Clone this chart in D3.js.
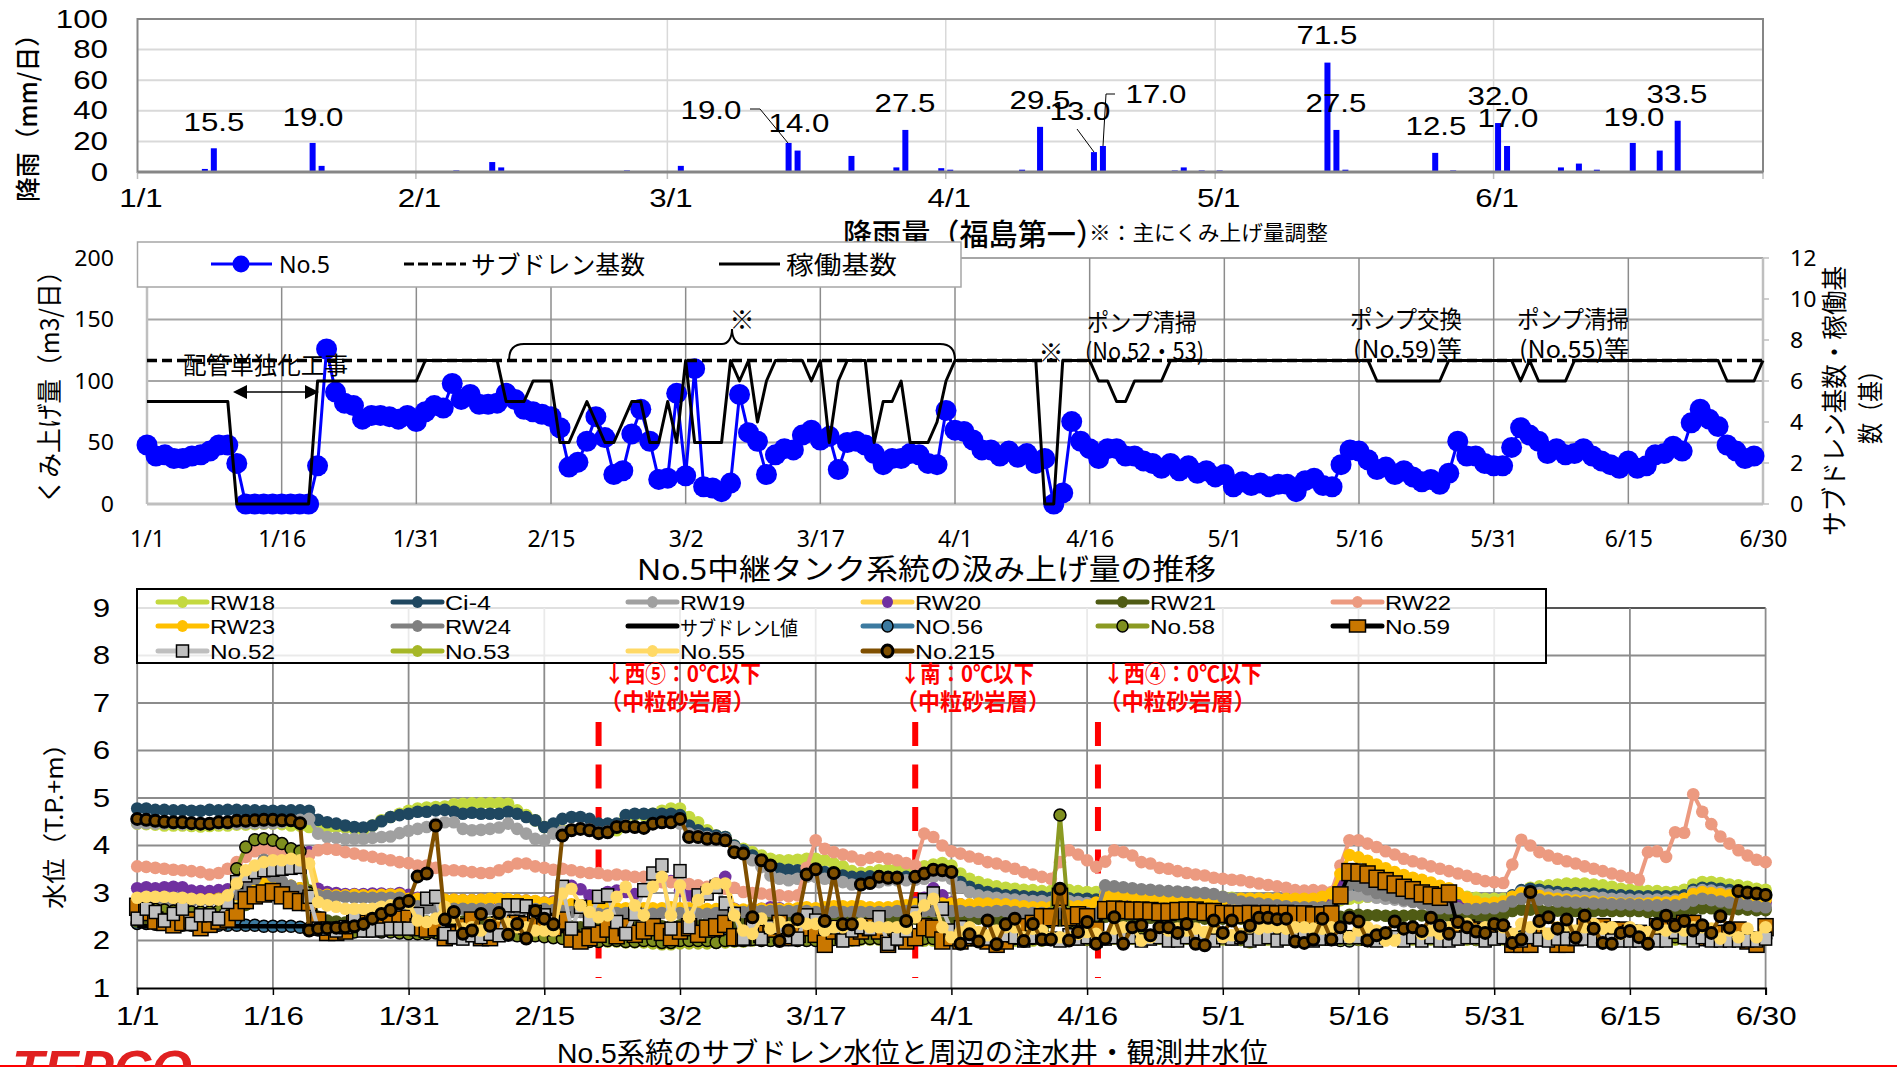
<!DOCTYPE html>
<html><head><meta charset="utf-8">
<script src="https://cdn.jsdelivr.net/npm/d3@7/dist/d3.min.js"></script>
<style>html,body{margin:0;padding:0;background:#fff;overflow:hidden}svg{display:block}</style>
</head><body><svg id="c" width="1897" height="1067"></svg>
<script>
// ---------- chart 1: rainfall ----------
const rainDays=[7,8,19,20,35,39,40,54,60,72,73,79,84,85,89,90,98,100,106,107,115,116,118,120,132,133,134,144,146,151,152,158,160,162,166,169,171];
const rainValues=[2,15.5,19,4,1,6.5,3,1,4,19,14,10.5,3,27.5,2.5,1.5,1.5,29.5,13,17,1,3,1,1,71.5,27.5,1.5,12.5,1,32,17,3,5.5,1.5,19,14,33.5];
const rainTickDays=[0,31,59,90,120,151];
const rainTickLabels=["1/1","2/1","3/1","4/1","5/1","6/1"];
const rainYTicks=[0,20,40,60,80,100];
const rainLabelTexts=["15.5","19.0","19.0","14.0","27.5","29.5","13.0","17.0","71.5","27.5","12.5","32.0","17.0","19.0","33.5"];
// ---------- chart 2: pumping ----------
const no5=[48,39,40,37,37,39,40,43,48,48,33,0,0,0,0,
0,0,0,0,31,126,91,82,80,69,72,72,71,69,72,
67,75,80,78,98,85,89,81,81,82,90,85,77,75,73,
71,62,30,34,51,71,54,24,27,57,77,51,20,21,90,
23,110,14,13,10,17,89,58,51,24,40,45,44,56,60,
52,55,28,50,51,48,41,32,37,37,41,40,33,32,76,
60,59,52,44,44,39,43,38,41,33,37,0,9,67,51,
45,37,45,45,39,39,35,33,29,33,27,31,25,27,22,
24,14,18,15,17,14,16,16,10,19,21,15,14,32,44,
43,36,28,30,24,27,22,18,20,16,25,51,39,39,33,
31,31,46,62,56,51,41,45,40,41,45,39,35,32,29,
35,29,31,40,41,47,43,66,77,69,63,48,43,37,39];
const running=[5,5,5,5,5,5,5,5,5,5,0,0,0,0,0,
0,0,0,0,6,6,6,6,6,6,6,6,6,6,6,
6,7,7,7,7,7,7,7,7,7,5,5,5,6,6,
6,3,3,4,5,4,3,3,4,5,5,3,3,5,3,
7,3,3,3,3,7,6,7,4,6,7,7,7,7,6,
7,3,6,7,7,7,3,5,5,6,3,3,3,4,6,
7,7,7,7,7,7,7,7,7,7,0,0,7,7,7,
7,6,6,5,5,6,6,6,6,7,7,7,7,7,7,
7,7,7,7,7,7,7,7,7,7,7,7,7,7,7,
7,7,6,6,6,6,6,6,6,6,7,7,7,7,7,
7,7,7,6,7,6,6,6,6,7,7,7,7,7,7,
7,7,7,7,7,7,7,7,7,7,7,6,6,6,6,7];
const subdrainCount=[7,7];
const subdrainSpan=[0,180];
const fifteenDayTicks=[0,15,30,45,60,75,90,105,120,135,150,165,180];
const fifteenDayLabels=["1/1","1/16","1/31","2/15","3/2","3/17","4/1","4/16","5/1","5/16","5/31","6/15","6/30"];
const pumpYTicks=[0,50,100,150,200];
const countYTicks=[0,2,4,6,8,10,12];
// ---------- chart 3: water levels ----------
const RW18=[4.46,4.45,4.44,4.42,4.42,4.42,4.41,4.40,4.41,4.42,4.42,4.44,4.44,4.45,4.46,
4.46,4.45,4.42,4.42,4.39,4.38,4.37,4.39,4.38,4.35,4.33,4.42,4.53,4.60,4.67,
4.73,4.78,4.80,4.81,4.82,4.87,4.88,4.89,4.89,4.89,4.89,4.88,4.74,4.64,4.53,
4.39,4.32,4.32,4.33,4.35,4.32,4.28,4.28,4.32,4.60,4.64,4.64,4.67,4.73,4.78,
4.78,4.60,4.49,4.32,4.21,4.18,4.00,3.93,3.86,3.79,3.72,3.69,3.69,3.70,3.72,
3.72,3.69,3.62,3.56,3.46,3.42,3.44,3.48,3.49,3.51,3.51,3.53,3.56,3.60,3.63,
3.58,3.41,3.30,3.23,3.18,3.14,3.11,3.09,3.07,3.06,3.04,3.04,3.04,3.06,3.04,
3.02,3.02,3.00,3.00,3.00,2.99,2.99,2.97,2.97,2.95,2.95,2.95,2.94,2.93,2.92,
2.92,2.90,2.88,2.88,2.88,2.86,2.86,2.86,2.85,2.85,2.85,2.83,2.85,2.85,2.88,
2.90,2.92,2.92,2.92,2.92,2.92,2.92,2.92,2.92,2.93,2.95,2.95,2.92,2.90,2.88,
2.88,2.88,2.92,3.04,3.11,3.14,3.16,3.18,3.20,3.20,3.20,3.18,3.16,3.13,3.09,
3.07,3.06,3.04,3.04,3.02,3.02,3.07,3.18,3.23,3.23,3.21,3.18,3.16,3.13,3.09,3.07];
const Ci4=[4.78,4.78,4.75,4.75,4.74,4.74,4.73,4.73,4.75,4.74,4.75,4.75,4.74,4.74,4.73,
4.73,4.73,4.74,4.74,4.73,4.54,4.49,4.46,4.42,4.39,4.38,4.42,4.51,4.60,4.64,
4.67,4.71,4.71,4.74,4.75,4.71,4.67,4.69,4.67,4.67,4.67,4.71,4.67,4.60,4.53,
4.39,4.46,4.56,4.60,4.60,4.56,4.46,4.46,4.46,4.64,4.67,4.67,4.67,4.67,4.67,
4.64,4.42,4.32,4.25,4.21,4.18,4.00,3.90,3.79,3.65,3.55,3.51,3.49,3.48,3.48,
3.46,3.44,3.41,3.37,3.34,3.34,3.35,3.35,3.34,3.34,3.34,3.35,3.37,3.39,3.41,
3.37,3.23,3.13,3.06,3.02,2.99,2.95,2.95,2.93,2.92,2.92,2.90,2.90,2.89,2.88,
2.88,2.86,2.86,2.86,2.85,2.85,2.85,2.83,2.83,2.83,2.83,2.82,2.82,2.81,2.81,
2.81,2.81,2.81,2.81,2.81,2.81,2.81,2.81,2.81,2.81,2.81,2.81,2.81,2.92,2.99,
2.99,2.95,2.92,2.90,2.88,2.86,2.85,2.81,2.79,2.78,2.76,2.74,2.72,2.71,2.71,
2.72,2.78,2.95,3.06,3.09,3.07,3.04,3.02,3.00,3.00,2.99,2.99,2.97,2.95,2.95,
2.94,2.93,2.93,2.93,2.93,2.93,2.95,3.07,3.11,3.11,3.09,3.06,3.02,3.00,2.99,2.97];
const RW19=[4.47,4.47,4.46,4.46,4.46,4.45,4.45,4.45,4.46,4.46,4.46,4.46,4.47,4.47,4.47,
4.47,4.49,4.52,4.54,4.56,4.25,4.18,4.16,4.14,4.14,4.14,4.16,4.18,4.19,4.26,
4.31,4.35,4.39,4.46,4.49,4.49,4.35,4.32,4.33,4.35,4.38,4.46,4.35,4.25,4.14,
4.11,4.25,4.30,4.34,4.36,4.34,4.28,4.30,4.40,4.42,4.40,4.38,4.46,4.48,4.48,
4.46,4.25,4.21,4.18,4.16,4.14,3.97,3.83,3.69,3.55,3.37,3.30,3.27,3.30,3.34,
3.34,3.30,3.27,3.23,3.18,3.18,3.20,3.23,3.27,3.27,3.27,3.28,3.30,3.34,3.37,
3.30,3.13,3.02,2.95,2.92,2.90,2.88,2.86,2.85,2.83,2.83,2.81,2.81,2.83,2.81,
2.79,2.78,3.00,2.99,2.97,2.95,2.95,2.93,2.92,2.92,2.90,2.90,2.88,2.88,2.86,
2.85,2.83,2.81,2.79,2.78,2.76,2.74,2.72,2.72,2.71,2.71,2.72,2.74,2.88,2.95,
2.95,2.93,2.90,2.88,2.86,2.83,2.81,2.79,2.78,2.76,2.74,2.72,2.71,2.69,2.67,
2.69,2.76,2.92,3.02,3.02,3.00,2.97,2.95,2.93,2.93,2.92,2.92,2.90,2.88,2.88,
2.86,2.86,2.86,2.86,2.86,2.86,2.88,3.02,3.06,3.05,3.02,2.99,2.95,2.92,2.90,2.88];
const RW20=[3.10,3.12,3.10,3.12,3.13,3.12,3.05,3.04,3.04,3.06,3.08,3.10,3.20,3.30,3.40,
3.50,3.55,3.65,3.80,3.86,3.09,3.02,3.00,2.98,2.98,2.98,2.99,2.99,2.98,3.00,
2.96,2.90,2.88,2.88,2.86,2.86,2.85,2.85,2.86,2.86,2.85,2.85,2.85,2.84,2.82,
2.80,2.82,3.10,3.15,3.08,2.95,2.78,3.02,3.05,3.02,2.98,3.08,3.20,3.30,3.25,
3.05,2.95,2.90,3.05,3.20,3.34,2.67,2.62,2.62,2.67,2.70,2.68,2.65,2.66,2.66,
2.62,2.60,2.62,2.62,2.62,2.64,2.64,2.66,2.66,2.68,2.70,2.80,2.90,3.10,2.95,
2.80,2.76,2.74,2.72,2.72,2.70,2.70,2.68,2.68,2.66,2.66,2.66,2.66,2.68,2.68,
2.72,2.78,2.90,2.90,2.90,2.88,2.88,2.86,2.86,2.86,2.84,2.84,2.84,2.84,2.82,
2.82,2.82,2.84,2.84,2.84,2.84,2.84,2.84,2.84,2.84,2.84,2.86,2.92,3.20,3.40,
3.38,3.30,3.22,3.15,3.08,3.00,2.95,2.90,2.85,2.80,2.75,2.72,2.70,2.68,2.68,
2.70,2.72,2.85,2.95,2.94,2.90,2.86,2.84,2.82,2.80,2.80,2.78,2.76,2.76,2.74,
2.74,2.74,2.74,2.76,2.76,2.78,2.82,2.92,2.96,2.95,2.92,2.90,2.88,2.84,2.82,2.80];
const RW21=[2.40,2.40,2.38,2.38,2.36,2.38,2.38,2.40,2.40,2.42,2.46,2.55,2.75,2.90,3.00,
3.05,3.09,3.08,3.09,3.05,2.50,2.42,2.40,2.38,2.38,2.38,2.40,2.40,2.42,2.42,
2.44,2.40,2.40,2.40,2.38,2.38,2.40,2.40,2.38,2.38,2.40,2.40,2.38,2.38,2.36,
2.34,2.32,2.30,2.30,2.28,2.28,2.30,2.30,2.28,2.30,2.28,2.28,2.28,2.30,2.30,
2.32,2.34,2.34,2.36,2.38,2.38,2.36,2.38,2.38,2.40,2.42,2.42,2.42,2.44,2.44,
2.46,2.46,2.46,2.46,2.44,2.44,2.44,2.46,2.46,2.44,2.46,2.46,2.44,2.44,2.42,
2.44,2.46,2.46,2.46,2.44,2.44,2.44,2.44,2.42,2.42,2.42,2.42,2.42,2.44,2.44,
2.42,2.42,2.50,2.50,2.50,2.50,2.50,2.48,2.48,2.48,2.48,2.46,2.46,2.46,2.46,
2.46,2.46,2.46,2.46,2.46,2.44,2.44,2.44,2.44,2.44,2.44,2.44,2.46,2.50,2.54,
2.54,2.53,2.53,2.52,2.52,2.52,2.53,2.53,2.53,2.53,2.52,2.50,2.50,2.50,2.52,
2.52,2.54,2.62,2.65,2.65,2.64,2.63,2.63,2.62,2.62,2.62,2.62,2.62,2.62,2.62,
2.62,2.62,2.60,2.60,2.60,2.60,2.62,2.66,2.68,2.68,2.66,2.66,2.66,2.65,2.64,2.64];
const RW22=[3.56,3.55,3.53,3.51,3.49,3.48,3.46,3.44,3.39,3.42,3.51,3.65,3.76,3.88,3.93,
3.88,3.81,3.77,3.72,3.79,3.90,3.93,3.91,3.86,3.83,3.79,3.76,3.72,3.69,3.65,
3.63,3.58,3.58,3.53,3.48,3.48,3.46,3.44,3.42,3.42,3.48,3.55,3.62,3.62,3.56,
3.53,3.49,3.51,3.48,3.44,3.42,3.42,3.37,3.39,3.37,3.34,3.34,3.27,3.23,3.23,
3.20,3.19,3.16,3.13,3.11,3.09,3.11,3.02,3.00,2.99,2.97,2.95,2.93,2.95,3.53,
4.11,3.93,3.86,3.81,3.77,3.69,3.74,3.76,3.72,3.69,3.63,3.58,4.25,4.18,4.00,
3.88,3.83,3.77,3.72,3.65,3.62,3.56,3.51,3.44,3.39,3.34,3.30,3.65,3.90,3.81,
3.69,3.55,3.66,3.90,3.86,3.79,3.65,3.62,3.53,3.51,3.46,3.42,3.39,3.37,3.32,
3.30,3.28,3.27,3.23,3.20,3.17,3.14,3.11,3.06,3.05,3.06,3.05,3.02,3.58,4.11,
4.11,4.04,3.97,3.88,3.81,3.72,3.67,3.62,3.56,3.51,3.46,3.41,3.36,3.30,3.25,
3.23,3.21,3.60,4.12,4.00,3.86,3.79,3.72,3.67,3.62,3.56,3.51,3.46,3.41,3.36,
3.32,3.28,3.86,3.88,3.76,4.28,4.27,5.08,4.71,4.45,4.19,4.04,3.90,3.79,3.70,3.65];
const RW23=[2.88,2.88,2.87,2.87,2.86,2.86,2.86,2.86,2.87,2.88,2.90,2.95,3.05,3.15,3.20,
3.20,3.20,3.15,3.10,3.00,2.96,2.96,2.95,2.95,2.96,2.95,2.95,2.96,2.97,2.97,
2.88,2.88,2.87,2.87,2.86,2.86,2.85,2.85,2.86,2.88,2.88,2.87,2.85,2.84,2.83,
2.80,2.80,2.78,2.76,2.74,2.72,2.70,2.68,2.68,2.68,2.68,2.68,2.68,2.68,2.70,
2.68,2.68,2.68,2.66,2.66,2.65,2.66,2.65,2.67,2.67,2.65,2.66,2.67,2.68,2.70,
2.68,2.70,2.72,2.72,2.72,2.72,2.70,2.70,2.70,2.72,2.74,2.76,2.78,2.78,2.78,
2.78,2.76,2.76,2.78,2.78,2.76,2.76,2.74,2.72,2.70,2.70,2.70,2.70,2.72,2.72,
2.74,2.80,2.95,2.93,2.95,2.93,2.92,2.92,2.90,2.90,2.90,2.88,2.88,2.88,2.88,
2.86,2.86,2.88,2.88,2.88,2.88,2.88,2.88,2.88,2.88,2.88,2.92,2.99,3.40,3.80,
3.75,3.68,3.60,3.52,3.44,3.38,3.32,3.28,3.22,3.15,3.10,3.00,2.90,2.82,2.78,
2.80,2.82,2.92,3.00,2.98,2.94,2.90,2.88,2.86,2.84,2.83,2.82,2.80,2.79,2.78,
2.78,2.78,2.78,2.80,2.80,2.82,2.88,2.98,3.02,3.00,2.98,2.95,2.93,2.90,2.88,2.86];
const RW24=[2.85,2.85,2.84,2.84,2.84,2.83,2.83,2.84,2.84,2.86,2.90,2.98,3.10,3.30,3.70,
3.35,3.25,3.15,3.05,2.98,2.95,2.94,2.92,2.92,2.90,2.90,2.90,2.90,2.90,2.90,
2.78,2.72,2.68,2.67,2.68,2.67,2.67,2.66,2.67,2.66,2.66,2.67,2.66,2.66,2.66,
2.66,2.64,2.62,2.60,2.60,2.58,2.56,2.56,2.58,2.58,2.56,2.56,2.56,2.58,2.58,
2.58,2.58,2.56,2.56,2.58,2.60,2.60,2.60,2.64,2.62,2.62,2.62,2.62,2.62,2.62,
2.60,2.60,2.60,2.60,2.60,2.60,2.60,2.60,2.60,2.62,2.62,2.62,2.62,2.62,2.62,
2.62,2.62,2.60,2.60,2.60,2.62,2.62,2.60,2.58,2.58,2.58,2.58,2.58,2.60,2.60,
2.58,2.56,3.16,3.14,3.12,3.10,3.08,3.07,3.05,3.04,3.03,3.02,3.01,3.00,2.98,
2.92,2.88,2.82,2.80,2.78,2.76,2.74,2.72,2.70,2.70,2.70,2.70,2.72,3.02,3.18,
3.15,3.08,3.00,2.95,2.90,2.86,2.82,2.78,2.72,2.68,2.68,2.68,2.66,2.66,2.68,
2.68,2.72,2.82,2.88,2.90,2.86,2.84,2.82,2.82,2.80,2.80,2.78,2.78,2.76,2.76,
2.76,2.75,2.74,2.74,2.74,2.74,2.76,2.84,2.88,2.85,2.82,2.80,2.78,2.75,2.72,2.70];
const subdrainL=[2.30,2.30,2.30,2.30,2.30,2.30,2.30,2.30,2.30,2.30,2.30,2.30,2.30,2.30,2.30,
2.30,2.30,2.30,2.30,2.30,2.30,2.30,2.30,2.30,2.30,2.30,2.30,2.30,2.30,2.30,
2.30,2.30,2.30,2.30,2.30,2.30,2.30,2.30,2.30,2.30,2.30,2.30,2.30,2.30,2.30,
2.30,2.30,2.20,2.05,2.00,2.00,2.00,2.00,2.00,2.00,2.00,2.00,2.00,2.00,2.00,
2.00,2.00,2.00,2.00,2.00,2.00,2.00,2.00,2.00,2.00,2.00,2.00,2.00,2.00,2.00,
2.00,2.00,2.00,2.00,2.00,2.00,2.00,2.00,2.00,2.00,2.00,2.00,2.00,2.00,2.00,
2.00,2.00,2.00,2.00,2.00,2.00,2.00,2.00,2.00,2.00,2.00,2.00,2.00,2.00,2.00,
2.00,2.00,2.00,2.00,2.00,2.00,2.00,2.00,2.00,2.00,2.00,2.00,2.00,2.00,2.00,
2.00,2.00,2.00,2.00,2.00,2.00,2.00,2.00,2.00,2.00,2.00,2.00,2.00,2.00,2.00,
2.00,2.00,2.00,2.00,2.00,2.00,2.00,2.00,2.00,2.00,2.00,2.00,2.00,2.00,2.00,
2.00,2.00,2.00,2.00,2.00,2.00,2.00,2.00,2.00,2.00,2.00,2.00,2.00,2.00,2.00,
2.00,2.00,2.00,2.00,2.00,2.00,2.00,2.00,2.00,2.00,2.00,2.00,2.00,2.00,2.00,2.00];
const NO56=[2.36,2.36,2.34,2.34,2.32,2.32,2.32,2.32,2.32,2.32,2.32,2.32,2.32,2.32,2.30,
2.30,2.30,2.30,2.28,2.26,2.26,2.26,2.24,2.24,2.24,2.22,2.22,2.22,2.22,2.22,
2.20,2.20,2.20,2.18,2.18,2.18,2.18,2.18,2.16,2.16,2.16,2.14,2.14,2.14,2.12,
2.10,2.08,2.06,2.04,2.04,2.04,2.04,2.02,2.02,2.02,2.02,2.02,2.02,2.02,2.02,
2.04,2.04,2.04,2.04,2.02,2.04,2.04,2.06,2.04,2.04,2.04,2.04,2.04,2.04,2.06,
2.06,2.08,2.06,2.06,2.06,2.04,2.06,2.06,2.04,2.06,2.06,2.04,2.06,2.04,2.04,
2.04,2.02,2.04,2.02,2.04,2.02,2.04,2.04,2.02,2.04,2.04,2.02,2.04,2.04,2.04,
2.02,2.04,2.04,2.06,2.04,2.06,2.04,2.04,2.08,2.06,2.07,2.07,2.02,2.00,2.04,
2.04,2.06,2.02,2.00,2.06,2.07,2.06,2.06,2.02,2.00,2.02,2.04,2.02,2.00,1.99,
2.02,2.00,2.04,2.06,2.04,2.04,2.06,2.06,2.04,2.06,2.04,2.06,2.04,2.02,2.04,
2.04,2.06,2.02,2.02,2.04,2.06,2.04,2.04,2.06,2.04,2.06,2.04,2.02,2.02,2.04,
2.04,2.04,2.02,2.04,2.06,2.04,2.04,2.06,2.04,2.04,2.06,2.04,2.04,2.04,2.04,2.04];
const No58=[2.70,2.68,2.66,2.64,2.62,2.62,2.60,2.60,2.60,2.62,2.80,3.51,3.97,4.12,4.14,
4.11,4.04,3.93,3.88,3.00,2.22,2.20,2.20,2.18,2.18,2.20,2.20,2.18,2.18,2.16,
2.14,2.14,2.14,2.16,2.14,2.14,2.12,2.12,2.14,2.12,2.12,2.12,2.10,2.10,2.10,
2.08,2.06,2.04,2.00,2.00,1.98,1.98,2.00,2.00,1.98,1.98,2.00,2.00,1.96,1.96,
2.00,2.00,2.00,2.00,1.96,2.00,2.00,2.00,2.02,2.00,2.00,2.00,2.02,2.00,2.00,
2.00,2.04,2.02,2.02,2.02,2.04,2.04,2.04,2.02,2.04,2.04,2.04,2.04,2.04,2.02,
2.02,2.02,2.02,2.04,2.02,2.02,2.02,2.04,2.04,2.04,2.06,2.40,4.64,2.40,2.04,
2.06,2.06,2.06,2.08,2.10,2.10,2.08,2.08,2.10,2.12,2.12,2.10,2.10,2.08,2.06,
2.08,2.06,2.06,2.00,2.06,2.08,2.10,2.08,2.06,2.06,2.08,2.06,2.08,2.06,2.06,
2.06,2.08,2.08,2.06,2.06,2.08,2.08,2.07,2.08,2.11,2.08,2.06,2.08,2.06,2.06,
2.06,2.06,2.06,2.08,2.08,2.06,2.06,2.08,2.06,2.06,2.08,2.06,2.06,2.04,2.06,
2.06,2.06,2.08,2.06,2.06,2.08,2.08,2.06,2.08,2.06,2.06,2.08,2.08,2.06,2.06,2.06];
const No59=[2.71,2.60,2.42,2.39,2.34,2.39,2.42,2.28,2.35,2.42,2.46,2.60,2.85,2.95,2.99,
3.02,2.95,2.85,2.81,2.81,2.42,2.18,2.18,2.21,2.35,2.35,2.39,2.42,2.42,2.44,
2.46,2.28,2.25,2.28,2.07,2.11,2.28,2.42,2.07,2.07,2.32,2.35,2.35,2.32,2.39,
2.39,2.28,2.42,2.04,2.00,2.07,2.14,2.25,2.11,2.28,2.14,2.21,2.28,2.18,2.07,
2.21,2.28,2.14,2.25,2.28,2.35,2.07,2.07,2.28,2.14,2.25,2.35,2.07,2.14,2.28,
2.14,1.93,2.21,2.11,2.07,2.21,2.28,2.21,1.93,2.07,2.00,2.07,2.28,2.25,2.00,
2.07,2.00,2.07,2.07,2.00,1.93,2.00,2.14,2.28,2.35,2.49,2.49,2.92,2.49,2.53,
2.49,2.21,2.64,2.65,2.64,2.63,2.63,2.62,2.60,2.60,2.62,2.63,2.63,2.60,2.60,
2.56,2.55,2.55,2.56,2.55,2.56,2.55,2.56,2.55,2.55,2.53,2.53,2.55,2.95,3.44,
3.43,3.39,3.30,3.25,3.18,3.11,3.06,2.99,2.95,2.92,2.99,2.28,2.25,2.21,2.18,
2.14,2.11,1.93,1.93,1.93,2.07,2.07,1.93,1.93,2.07,2.28,2.28,2.28,2.21,2.21,
2.14,2.14,2.07,2.28,2.28,2.28,2.35,2.35,2.07,2.07,2.14,2.14,2.21,2.00,1.93,2.28];
const No52=[2.46,2.67,2.60,2.42,2.56,2.67,2.35,2.53,2.53,2.46,2.81,3.23,3.37,3.44,3.48,
3.49,3.51,3.53,3.55,2.92,2.25,2.25,2.21,2.28,2.53,2.21,2.21,2.23,2.25,2.25,
2.25,2.56,2.88,2.92,2.14,2.07,2.04,2.11,2.07,2.14,2.11,2.74,2.74,2.72,2.60,
2.53,2.39,3.13,2.25,2.71,2.42,2.92,2.95,2.39,2.14,2.56,3.06,3.41,3.58,2.25,
3.46,2.28,2.95,2.99,3.13,2.78,2.56,2.04,2.28,2.04,2.28,2.28,2.07,2.04,2.53,
2.42,2.28,2.28,2.00,2.21,2.28,2.25,2.49,1.93,2.04,2.21,2.56,2.85,2.99,2.67,
2.21,2.28,2.07,2.07,2.04,2.07,2.11,2.07,2.00,2.07,2.07,2.04,2.00,2.11,2.04,
2.07,2.00,2.04,2.07,2.07,2.07,2.00,2.04,2.07,2.00,2.00,2.07,2.07,2.04,2.00,
2.07,2.04,2.07,2.00,2.04,2.07,2.00,2.04,2.07,2.07,2.00,2.04,2.04,2.07,2.07,
2.07,2.04,2.00,2.07,2.07,2.00,2.07,2.00,2.07,2.00,2.00,2.04,2.07,2.07,2.00,
2.04,2.07,2.00,2.00,2.07,2.02,2.00,2.04,2.04,2.04,2.04,2.00,2.02,2.00,2.00,
2.00,2.00,2.07,2.00,2.00,2.18,2.07,2.00,2.07,2.00,2.00,2.00,2.00,2.00,2.00,2.04];
const No53=[2.60,2.58,2.56,2.54,2.52,2.52,2.52,2.54,2.54,2.56,2.60,2.68,2.90,3.10,3.20,
3.22,3.20,3.15,3.10,2.85,2.34,2.32,2.30,2.30,2.30,2.30,2.30,2.30,2.30,2.28,
2.26,2.24,2.24,2.24,2.22,2.22,2.20,2.20,2.20,2.20,2.18,2.18,2.18,2.16,2.16,
2.14,2.10,2.06,2.02,2.00,1.98,1.98,1.98,1.98,1.96,1.96,1.96,1.94,1.92,1.92,
1.94,1.94,1.94,1.94,1.95,1.96,1.98,1.98,2.00,2.00,2.00,2.00,2.02,2.00,2.00,
2.02,2.04,2.02,2.02,2.00,2.02,2.02,2.02,2.00,2.02,2.02,2.02,2.00,2.00,2.00,
2.00,1.98,2.00,2.00,2.00,1.98,2.00,2.00,2.00,2.00,2.00,2.02,2.02,2.02,2.02,
2.02,2.02,2.04,2.04,2.04,2.04,2.02,2.04,2.04,2.02,2.04,2.04,2.04,2.02,2.02,
2.02,2.02,2.02,1.96,2.02,2.02,2.04,2.02,2.02,2.00,2.02,2.02,2.02,2.02,2.02,
2.02,2.02,2.02,2.04,2.02,2.02,2.02,2.03,2.02,2.05,2.02,2.02,2.02,2.02,2.02,
2.02,2.02,2.02,2.02,2.02,2.02,2.02,2.02,2.02,2.02,2.02,2.02,2.02,2.00,2.02,
2.02,2.02,2.02,2.02,2.02,2.02,2.02,2.02,2.02,2.02,2.02,2.02,2.02,2.02,2.02,2.02];
const No55=[2.90,2.92,2.92,2.92,2.90,2.90,2.88,2.86,2.86,2.86,2.95,3.20,3.48,3.58,3.65,
3.69,3.69,3.72,3.69,3.62,2.81,2.74,2.71,2.67,2.67,2.67,2.67,2.71,2.74,2.78,
2.78,2.42,2.39,2.46,2.71,2.49,2.25,2.28,2.21,2.35,2.53,2.35,2.28,2.28,2.21,
2.21,2.21,2.99,3.09,2.74,2.60,2.49,2.53,2.92,3.13,2.74,2.53,3.13,3.34,2.53,
3.16,2.49,2.85,3.09,3.20,3.20,2.53,2.21,2.14,2.46,2.25,2.39,2.28,2.39,2.35,
2.35,2.21,2.28,2.28,2.35,2.35,2.28,2.28,2.28,2.28,2.25,2.49,2.74,2.88,2.28,
2.07,2.18,2.28,2.18,2.11,2.21,2.28,2.28,2.07,2.25,2.21,2.07,2.07,2.07,2.14,
2.18,2.14,2.07,2.25,2.28,2.28,2.00,2.07,2.28,2.21,2.25,2.21,2.25,2.18,2.28,
2.07,2.11,2.14,2.28,2.25,2.28,2.28,2.25,2.28,2.28,2.25,2.25,2.28,2.28,2.07,
2.21,2.28,2.21,2.00,2.00,2.25,2.28,2.14,2.21,2.14,2.28,2.35,2.35,2.21,2.28,
2.35,2.28,2.14,2.35,2.28,2.35,2.14,2.28,2.32,2.21,2.28,2.35,2.25,2.28,2.14,
2.28,2.21,2.18,2.28,2.21,2.28,2.21,2.28,2.28,2.25,2.04,2.21,2.07,2.25,2.07,2.28];
const No215=[4.56,4.54,4.52,4.50,4.49,4.49,4.47,4.46,4.46,4.49,4.49,4.52,4.52,4.53,4.54,
4.54,4.53,4.53,4.47,2.21,2.25,2.26,2.27,2.28,2.30,2.35,2.46,2.56,2.64,2.78,
2.83,3.35,3.41,4.42,2.44,2.60,2.14,2.21,2.56,2.31,2.58,2.12,2.35,2.04,2.62,
2.46,2.34,4.21,4.32,4.35,4.32,4.26,4.28,4.39,4.40,4.39,4.37,4.46,4.49,4.49,
4.56,4.18,4.18,4.14,4.14,4.11,3.86,3.83,2.49,3.69,3.58,1.99,2.21,2.45,3.39,
3.50,2.41,3.42,2.34,2.34,3.18,3.21,3.34,3.32,3.32,2.41,3.34,3.41,3.49,3.48,
3.44,1.93,2.13,1.98,2.42,1.92,2.34,2.46,1.99,2.35,2.02,2.02,3.09,2.00,2.18,
2.39,1.93,2.04,2.49,1.93,2.28,2.32,2.11,2.28,2.28,2.16,2.35,1.93,1.90,2.42,
2.16,2.42,2.07,2.31,2.48,2.48,2.45,2.46,1.98,1.95,2.02,2.46,2.02,2.28,2.48,
2.40,2.00,2.11,2.16,2.40,2.25,2.28,2.20,2.48,2.31,2.14,2.39,2.28,2.19,2.16,
2.35,2.32,1.95,2.02,3.02,2.41,2.49,2.25,2.44,2.06,2.52,2.25,1.95,1.93,2.16,
2.20,2.07,1.93,2.35,2.52,2.31,2.41,2.21,2.32,2.16,2.51,2.27,3.04,3.01,2.99,2.96];
const levelYTicks=[1,2,3,4,5,6,7,8,9];
const frozenDays=[51,86,106.2];

const F1='"Liberation Sans","Noto Sans CJK JP",sans-serif';
const F2='"Noto Sans","Noto Sans CJK JP",sans-serif';
const CJK='"Noto Sans CJK JP","Noto Sans",sans-serif';
const svg=d3.select("#c");
const idx=a=>a.map((v,i)=>[i,v]);

function stretch(sel,k){sel.each(function(){const w=this.getComputedTextLength();
  this.setAttribute("textLength",w*k);this.setAttribute("lengthAdjust","spacingAndGlyphs");});return sel;}
function txt(x,y,s,o={}){
  const t=svg.append("text").attr("x",x).attr("y",y).attr("dominant-baseline","central")
    .attr("font-family",o.font||CJK).attr("font-size",o.size||22).attr("font-weight",o.weight||400)
    .attr("fill",o.fill||"#000").attr("text-anchor",o.anchor||"start").text(s);
  if(o.rotate)t.attr("transform",`rotate(${o.rotate} ${x} ${y})`);
  if(o.width){t.attr("textLength",o.width).attr("lengthAdjust","spacingAndGlyphs");}
  else if(o.stretch)stretch(t,o.stretch);
  return t;
}
function styleAxis(g,font,size,k){
  g.select(".domain").remove();g.selectAll(".tick line").remove();
  const t=g.selectAll("text").attr("font-family",font).attr("font-size",size).attr("fill","#000");
  if(k)stretch(t,k);
}

// ===== Chart 1 =====
const x1=d3.scaleLinear().domain([0,181]).range([137.5,1763]);
const band1=d3.scaleBand().domain(d3.range(181)).range([137.5,1763]);
const y1=d3.scaleLinear().domain([0,100]).range([172,19]);
const g1=svg.append("g");
g1.selectAll(".h").data(rainYTicks).join("line").attr("x1",137.5).attr("x2",1763).attr("y1",d=>y1(d)).attr("y2",d=>y1(d)).attr("stroke","#d9d9d9").attr("stroke-width",2);
g1.selectAll(".v").data(rainTickDays.slice(1)).join("line").attr("x1",d=>x1(d)).attr("x2",d=>x1(d)).attr("y1",19).attr("y2",172).attr("stroke","#d9d9d9").attr("stroke-width",1.5);
g1.append("rect").attr("x",137.5).attr("y",19).attr("width",1625.5).attr("height",153).attr("fill","none").attr("stroke","#868686").attr("stroke-width",2);
g1.selectAll(".t").data([...rainTickDays,181]).join("line").attr("x1",d=>x1(d)).attr("x2",d=>x1(d)).attr("y1",172).attr("y2",179).attr("stroke","#bfbfbf").attr("stroke-width",1.5);
g1.selectAll(".bar").data(rainDays.map((d,i)=>[d,rainValues[i]])).join("rect")
  .attr("x",d=>band1(d[0])+band1.bandwidth()/2-3).attr("width",6)
  .attr("y",d=>y1(d[1])).attr("height",d=>y1(0)-y1(d[1])).attr("fill","#0000ff");
g1.append("line").attr("x1",137.5).attr("x2",1763).attr("y1",172).attr("y2",172).attr("stroke","#868686").attr("stroke-width",3);
const ax1=svg.append("g").attr("transform","translate(108,0)").call(d3.axisLeft(y1).tickValues(rainYTicks).tickSize(0).tickPadding(0));
styleAxis(ax1,F1,25,1.25);
const bx1=svg.append("g").attr("transform","translate(3,189)").call(d3.axisBottom(x1).tickValues(rainTickDays).tickFormat((d,i)=>rainTickLabels[i]).tickSize(0).tickPadding(0));
styleAxis(bx1,F1,25,1.25);
const rainLabelPos=[[214,122],[313,117],[711,110],[799,123],[905,103],[1040,100],[1080,111],[1156,94],[1327,35],[1336,103],[1436,126],[1498,96],[1508,118],[1634,117],[1677,94]];
rainLabelTexts.forEach((s,i)=>txt(rainLabelPos[i][0],rainLabelPos[i][1],s,{font:F1,size:25,anchor:"middle",stretch:1.25}));
const lead=(pts)=>svg.append("path").attr("d",d3.line()(pts)).attr("fill","none").attr("stroke","#000").attr("stroke-width",1);
lead([[750,109],[760,109],[788,143]]);lead([[1077,129],[1094,152]]);lead([[1115,94],[1106,94],[1103,146]]);
txt(26,112,"降雨（mm/日）",{size:25,anchor:"middle",rotate:-90,width:180,weight:500});
txt(843,232,"降雨量（福島第一）",{size:30,width:262,weight:500});
txt(1089,231,"※：主にくみ上げ量調整",{size:21,width:239});

// ===== Chart 2 =====
const x2=d3.scaleLinear().domain([0,180]).range([147,1763]);
const y2=d3.scaleLinear().domain([0,200]).range([504,258]);
const y2r=d3.scaleLinear().domain([0,12]).range([504,258]);
const g2=svg.append("g");
g2.selectAll(".h").data(pumpYTicks).join("line").attr("x1",147).attr("x2",1763).attr("y1",d=>y2(d)).attr("y2",d=>y2(d)).attr("stroke",d=>d===0?"#bfbfbf":"#a6a6a6").attr("stroke-width",d=>d===0?3:2);
g2.selectAll(".v").data(fifteenDayTicks).join("line").attr("x1",d=>x2(d)).attr("x2",d=>x2(d)).attr("y1",258).attr("y2",504).attr("stroke",d=>(d===0||d===180)?"#bfbfbf":"#8c8c8c").attr("stroke-width",d=>(d===0||d===180)?2.5:1.5);
g2.selectAll(".rt").data(countYTicks).join("line").attr("x1",1763).attr("x2",1769).attr("y1",d=>y2r(d)).attr("y2",d=>y2r(d)).attr("stroke","#bfbfbf").attr("stroke-width",1.5);
const line2=d3.line().x(d=>x2(d[0])).y(d=>y2(d[1]));
const line2r=d3.line().x(d=>x2(d[0])).y(d=>y2r(d[1]));
g2.append("path").attr("d",line2(idx(no5))).attr("fill","none").attr("stroke","#0000ff").attr("stroke-width",3);
g2.selectAll(".m").data(idx(no5)).join("circle").attr("cx",d=>x2(d[0])).attr("cy",d=>y2(d[1])).attr("r",10.5).attr("fill","#0000ff");
g2.append("path").attr("d",line2r(subdrainSpan.map((d,i)=>[d,subdrainCount[i]]))).attr("fill","none").attr("stroke","#000").attr("stroke-width",3.5).attr("stroke-dasharray","10 5");
g2.append("path").attr("d",line2r(idx(running))).attr("fill","none").attr("stroke","#000").attr("stroke-width",3).attr("stroke-linejoin","round");
const ax2=svg.append("g").attr("transform","translate(114,0)").call(d3.axisLeft(y2).tickValues(pumpYTicks).tickSize(0).tickPadding(0));
styleAxis(ax2,F2,22,1.05);
const bx2=svg.append("g").attr("transform","translate(0,531)").call(d3.axisBottom(x2).tickValues(fifteenDayTicks).tickFormat((d,i)=>fifteenDayLabels[i]).tickSize(0).tickPadding(0));
styleAxis(bx2,F2,23,1.0);
const rx2=svg.append("g").attr("transform","translate(1790,0)").call(d3.axisRight(y2r).tickValues(countYTicks).tickSize(0).tickPadding(0));
styleAxis(rx2,F2,22,1.05);
txt(47,381,"くみ上げ量（m3/日）",{size:26,anchor:"middle",rotate:-90,width:245});
txt(1832,401,"サブドレン基数・稼働基",{size:26,anchor:"middle",rotate:-90,width:270});
txt(1868,402,"数（基）",{size:26,anchor:"middle",rotate:-90,width:84});
txt(637,568,"No.5中継タンク系統の汲み上げ量の推移",{size:29,width:579,font:F2});
// legend 2
svg.append("rect").attr("x",137.5).attr("y",242).attr("width",823.5).attr("height",45).attr("fill","#fff").attr("stroke","#a6a6a6").attr("stroke-width",1.5);
svg.append("line").attr("x1",211).attr("x2",272).attr("y1",264).attr("y2",264).attr("stroke","#0000ff").attr("stroke-width",3);
svg.append("circle").attr("cx",241).attr("cy",264).attr("r",8.5).attr("fill","#0000ff");
txt(279,264,"No.5",{font:F2,size:23,width:51});
svg.append("line").attr("x1",404).attr("x2",466).attr("y1",264).attr("y2",264).attr("stroke","#000").attr("stroke-width",3).attr("stroke-dasharray","10 4");
txt(471,263,"サブドレン基数",{size:25,width:174});
svg.append("line").attr("x1",719).attr("x2",780).attr("y1",264).attr("y2",264).attr("stroke","#000").attr("stroke-width",3);
txt(786,263,"稼働基数",{size:25,width:111});
// annotations 2
txt(183,363,"配管単独化工事",{size:24,width:165});
svg.append("line").attr("x1",240).attr("x2",312).attr("y1",392).attr("y2",392).attr("stroke","#000").attr("stroke-width",1.5);
svg.append("path").attr("d","M233 392L247 385V399Z").attr("fill","#000");
svg.append("path").attr("d","M319 392L305 385V399Z").attr("fill","#000");
svg.append("path").attr("d","M509 360C509 350 514 344 524 344H722C728 344 732 338 732 329C732 338 736 344 742 344H940C950 344 955 350 955 360").attr("fill","none").attr("stroke","#000").attr("stroke-width",2);
txt(742,318,"※",{size:25,anchor:"middle"});
txt(1051,351,"※",{size:25,anchor:"middle"});
txt(1087,320,"ポンプ清掃",{size:24,width:110});
txt(1085,349,"(No.52・53)",{size:24,width:119});
txt(1350,317,"ポンプ交換",{size:24,width:112});
txt(1353,347,"(No.59)等",{size:24,width:109});
txt(1517,317,"ポンプ清掃",{size:24,width:112});
txt(1519,347,"(No.55)等",{size:24,width:110});

// ===== Chart 3 =====
const x3=d3.scaleLinear().domain([0,180]).range([137.2,1765.6]);
const y3=d3.scaleLinear().domain([1,9]).range([988,608]);
const g3=svg.append("g");
g3.selectAll(".h").data(levelYTicks.slice(1)).join("line").attr("x1",137).attr("x2",1765.6).attr("y1",d=>y3(d)).attr("y2",d=>y3(d)).attr("stroke",d=>d===9?"#555":"#8c8c8c").attr("stroke-width",2);
g3.selectAll(".v").data(fifteenDayTicks).join("line").attr("x1",d=>x3(d)).attr("x2",d=>x3(d)).attr("y1",608).attr("y2",988).attr("stroke","#8c8c8c").attr("stroke-width",1.8);
const xAxis3=svg.append("g").attr("transform","translate(0,988)").call(d3.axisBottom(x3).tickValues(fifteenDayTicks).tickFormat((d,i)=>fifteenDayLabels[i]).tickSize(7).tickPadding(12));
xAxis3.select(".domain").attr("stroke","#000").attr("stroke-width",2);
xAxis3.selectAll(".tick line").attr("stroke","#000").attr("stroke-width",1.5);
{const t=xAxis3.selectAll("text").attr("font-family",F1).attr("font-size",25).attr("fill","#000");stretch(t,1.25);}
const ax3=svg.append("g").attr("transform","translate(110,0)").call(d3.axisLeft(y3).tickValues(levelYTicks).tickSize(0).tickPadding(0));
styleAxis(ax3,F1,25,1.25);
// red frost lines
svg.selectAll(".fr").data(frozenDays).join("line").attr("x1",d=>x3(d)).attr("x2",d=>x3(d)).attr("y1",722).attr("y2",978).attr("stroke","#ff0000").attr("stroke-width",6).attr("stroke-dasharray","24 18.5");

// draw order: hidden low series first, main wells, then the subdrains on top
const series=[
 {name:"NO.56",vals:NO56,line:"#3C7AA0",fill:"#3C7AA0",outline:true},
 {name:"No.53",vals:No53,line:"#A6B727",fill:"#A6B727"},
 {name:"RW18",vals:RW18,line:"#C4D93F",fill:"#C4D93F"},
 {name:"Ci-4",vals:Ci4,line:"#1F4760",fill:"#1F4760"},
 {name:"RW19",vals:RW19,line:"#A0A0A0",fill:"#A0A0A0"},
 {name:"RW20",vals:RW20,line:"#FFD24A",fill:"#7030A0"},
 {name:"RW21",vals:RW21,line:"#4F5B14",fill:"#4F5B14"},
 {name:"RW22",vals:RW22,line:"#EC9A80",fill:"#EC9A80"},
 {name:"RW23",vals:RW23,line:"#FFC000",fill:"#FFC000"},
 {name:"RW24",vals:RW24,line:"#808080",fill:"#808080"},
 {name:"サブドレンL値",vals:subdrainL,line:"#000",none:true},
 {name:"No.58",vals:No58,line:"#8B9A22",fill:"#7F8F1F",outline:true},
 {name:"No.59",vals:No59,line:"#000",fill:"#C97700",square:[15,17]},
 {name:"No.52",vals:No52,line:"#BFBFBF",fill:"#BFBFBF",square:[12,13]},
 {name:"No.55",vals:No55,line:"#FFD966",fill:"#FFD966"},
 {name:"No.215",vals:No215,line:"#7F4F00",fill:"#7F4F00",thick:true}
];
const line3=d3.line().x(d=>x3(d[0])).y(d=>y3(d[1]));
series.forEach(s=>{
  const g=svg.append("g");
  g.append("path").attr("d",line3(idx(s.vals))).attr("fill","none").attr("stroke",s.line).attr("stroke-width",s.none?4.5:4).attr("stroke-linejoin","round");
  if(s.none)return;
  if(s.square){
    g.selectAll("rect").data(idx(s.vals)).join("rect").attr("x",d=>x3(d[0])-s.square[0]/2).attr("y",d=>y3(d[1])-s.square[1]/2)
      .attr("width",s.square[0]).attr("height",s.square[1]).attr("fill",s.fill).attr("stroke","#000").attr("stroke-width",1.5);
  }else{
    g.selectAll("circle").data(idx(s.vals)).join("circle").attr("cx",d=>x3(d[0])).attr("cy",d=>y3(d[1]))
      .attr("r",s.thick?5.5:(s.outline?6:6.3)).attr("fill",s.fill)
      .attr("stroke",s.thick||s.outline?"#000":"none").attr("stroke-width",s.thick?3:1.5);
  }
});
// legend 3
svg.append("rect").attr("x",137).attr("y",589).attr("width",1409).attr("height",74).attr("fill","#fff").attr("fill-opacity",0.82).attr("stroke","#000").attr("stroke-width",2);
const cols=[158,393,628,863,1098,1333];const rows=[602,626,651];
const layout=[[0,0],[1,0],[2,0],[3,0],[4,0],[5,0],[0,1],[1,1],[2,1],[3,1],[4,1],[5,1],[0,2],[1,2],[2,2],[3,2]];
const legendOrder=["RW18","Ci-4","RW19","RW20","RW21","RW22","RW23","RW24","サブドレンL値","NO.56","No.58","No.59","No.52","No.53","No.55","No.215"];
const textW={"RW18":65,"Ci-4":46,"RW19":65,"RW20":66,"RW21":66,"RW22":66,"RW23":65,"RW24":66,"サブドレンL値":118,"NO.56":68,"No.58":65,"No.59":65,"No.52":65,"No.53":65,"No.55":65,"No.215":80};
legendOrder.forEach((n,i)=>{
  const s=series.find(d=>d.name===n);const [c,r]=layout[i];const X=cols[c],Y=rows[r];
  svg.append("line").attr("x1",X).attr("x2",X+49).attr("y1",Y).attr("y2",Y).attr("stroke",s.line).attr("stroke-width",5).attr("stroke-linecap","round");
  if(s.square){svg.append("rect").attr("x",X+24.5-(c===0?6:8)).attr("y",Y-6).attr("width",c===0?12:16).attr("height",12).attr("fill",s.fill).attr("stroke","#000").attr("stroke-width",1.5);}
  else if(!s.none){svg.append("ellipse").attr("cx",X+24.5).attr("cy",Y).attr("rx",5.5).attr("ry",6).attr("fill",s.fill).attr("stroke",(s.thick||s.outline)?"#000":"none").attr("stroke-width",s.thick?3:1.5);}
  txt(X+52,Y+1,n,{font:n.includes("ブ")?CJK:F1,size:20,width:textW[n]});
});
// red annotations
const redO={size:23,weight:700,fill:"#ff0000"};
txt(604,672,"↓西⑤：0℃以下",{...redO,width:157});txt(600,700,"（中粒砂岩層）",{...redO,width:155});
txt(900,672,"↓南：0℃以下",{...redO,width:134});txt(896,700,"（中粒砂岩層）",{...redO,width:154});
txt(1103,672,"↓西④：0℃以下",{...redO,width:159});txt(1099,700,"（中粒砂岩層）",{...redO,width:157});
txt(52,820,"水位（T.P.+m）",{size:24,anchor:"middle",rotate:-90,width:178,font:CJK});
txt(557,1053,"No.5系統のサブドレン水位と周辺の注水井・観測井水位",{size:28,width:711,font:F1});
// bottom rule + logo
svg.append("rect").attr("x",0).attr("y",1065).attr("width",1897).attr("height",2).attr("fill","#ff0000");
svg.append("text").attr("x",12).attr("y",1086).attr("font-family",F1).attr("font-weight",700).attr("font-style","italic").attr("font-size",50).attr("fill","#e02020").attr("textLength",180).attr("lengthAdjust","spacingAndGlyphs").text("TEPCO");
</script></body></html>
